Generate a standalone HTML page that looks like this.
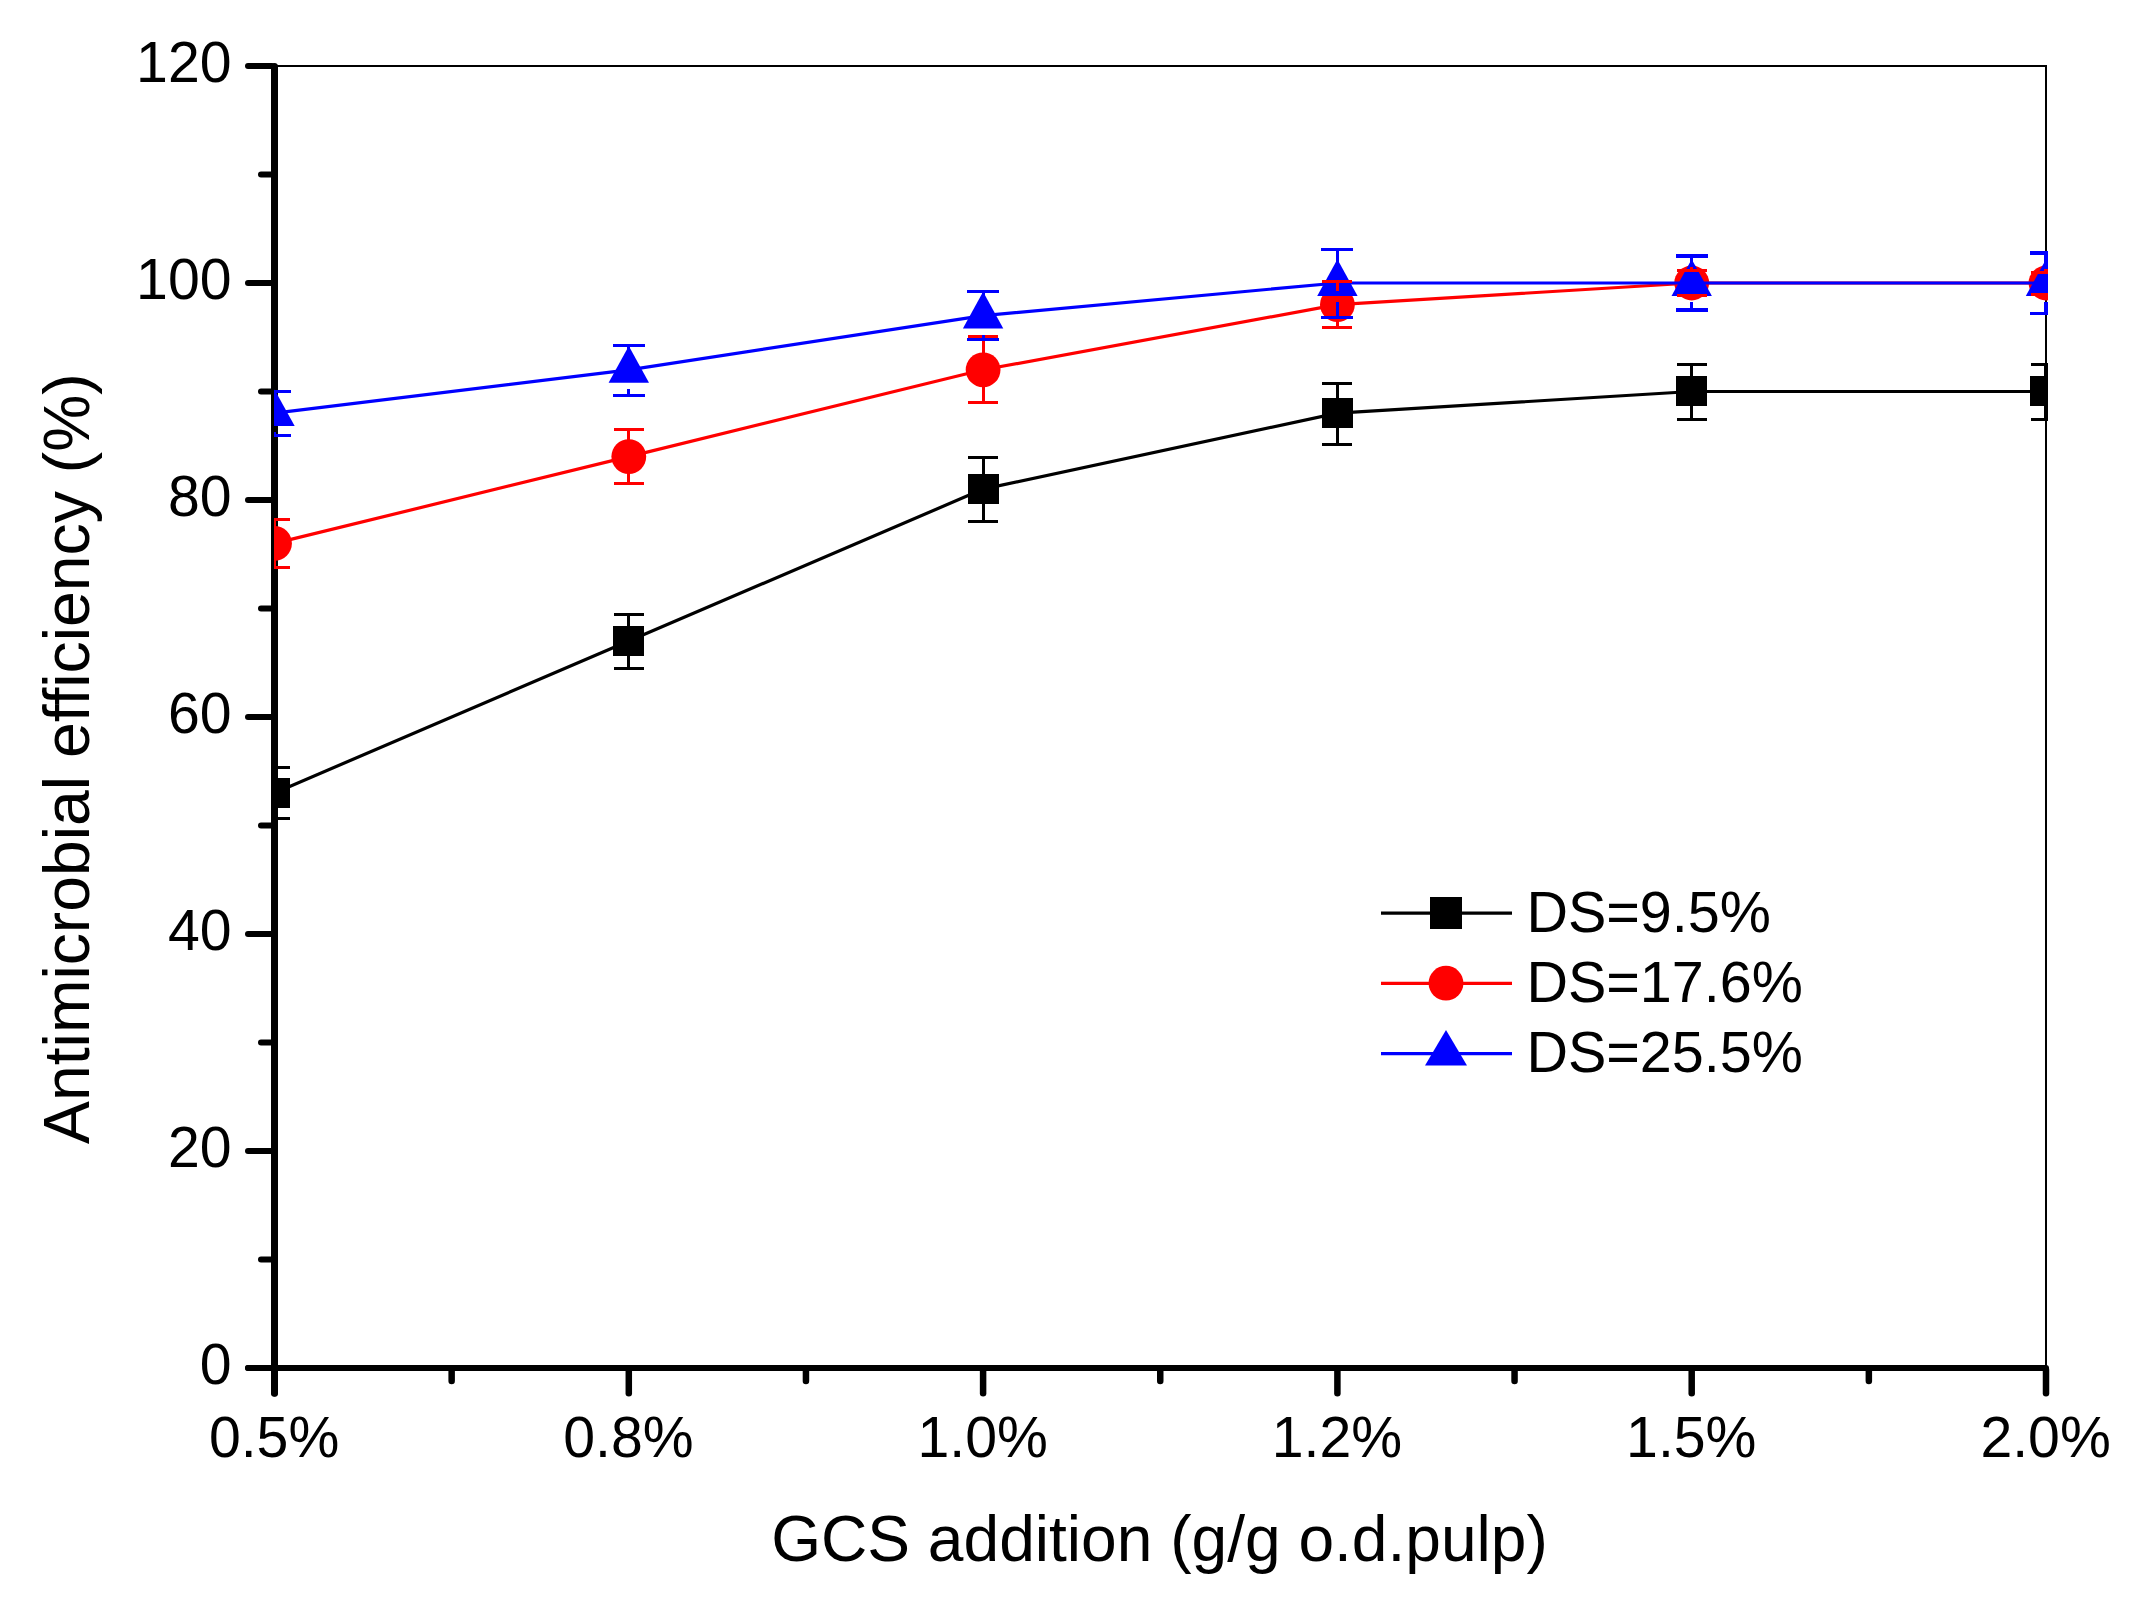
<!DOCTYPE html>
<html lang="en"><head><meta charset="utf-8"><title>Antimicrobial efficiency vs GCS addition</title>
<style>html,body{margin:0;padding:0;background:#fff;}body{width:2131px;height:1602px;overflow:hidden;}svg{display:block;}text{font-family:"Liberation Sans",Arial,Helvetica,sans-serif;fill:#000;}</style>
</head><body>
<svg width="2131" height="1602" viewBox="0 0 2131 1602">
<rect x="0" y="0" width="2131" height="1602" fill="#fff"/>
<defs><clipPath id="plot"><rect x="274" y="60" width="1774" height="1311"/></clipPath></defs>
<g shape-rendering="crispEdges">
<rect x="274" y="65" width="1773" height="2" fill="#000"/>
<rect x="2045" y="65" width="2" height="1303" fill="#000"/>
</g>
<g stroke="#000" stroke-linecap="round" fill="none">
<line x1="274.5" y1="66.6" x2="274.5" y2="1393.3" stroke-width="7"/>
<line x1="248" y1="1368" x2="2046" y2="1368" stroke-width="6"/>
<line x1="248" y1="1368.00" x2="272" y2="1368.00" stroke-width="6"/>
<line x1="261" y1="1259.50" x2="272" y2="1259.50" stroke-width="6"/>
<line x1="248" y1="1151.00" x2="272" y2="1151.00" stroke-width="6"/>
<line x1="261" y1="1042.50" x2="272" y2="1042.50" stroke-width="6"/>
<line x1="248" y1="934.00" x2="272" y2="934.00" stroke-width="6"/>
<line x1="261" y1="825.50" x2="272" y2="825.50" stroke-width="6"/>
<line x1="248" y1="717.00" x2="272" y2="717.00" stroke-width="6"/>
<line x1="261" y1="608.50" x2="272" y2="608.50" stroke-width="6"/>
<line x1="248" y1="500.00" x2="272" y2="500.00" stroke-width="6"/>
<line x1="261" y1="391.50" x2="272" y2="391.50" stroke-width="6"/>
<line x1="248" y1="283.00" x2="272" y2="283.00" stroke-width="6"/>
<line x1="261" y1="174.50" x2="272" y2="174.50" stroke-width="6"/>
<line x1="248" y1="66.00" x2="272" y2="66.00" stroke-width="6"/>
<line x1="274.50" y1="1370" x2="274.50" y2="1393.3" stroke-width="6.5"/>
<line x1="451.65" y1="1370" x2="451.65" y2="1381" stroke-width="6.5"/>
<line x1="628.80" y1="1370" x2="628.80" y2="1393.3" stroke-width="6.5"/>
<line x1="805.95" y1="1370" x2="805.95" y2="1381" stroke-width="6.5"/>
<line x1="983.10" y1="1370" x2="983.10" y2="1393.3" stroke-width="6.5"/>
<line x1="1160.25" y1="1370" x2="1160.25" y2="1381" stroke-width="6.5"/>
<line x1="1337.40" y1="1370" x2="1337.40" y2="1393.3" stroke-width="6.5"/>
<line x1="1514.55" y1="1370" x2="1514.55" y2="1381" stroke-width="6.5"/>
<line x1="1691.70" y1="1370" x2="1691.70" y2="1393.3" stroke-width="6.5"/>
<line x1="1868.85" y1="1370" x2="1868.85" y2="1381" stroke-width="6.5"/>
<line x1="2046.00" y1="1370" x2="2046.00" y2="1393.3" stroke-width="6.5"/>
</g>
<g font-size="57.2px">
<text x="231.5" y="1383.5" text-anchor="end">0</text>
<text x="231.5" y="1166.5" text-anchor="end">20</text>
<text x="231.5" y="949.5" text-anchor="end">40</text>
<text x="231.5" y="732.5" text-anchor="end">60</text>
<text x="231.5" y="515.5" text-anchor="end">80</text>
<text x="231.5" y="298.5" text-anchor="end">100</text>
<text x="231.5" y="81.5" text-anchor="end">120</text>
<text x="274.1" y="1457" text-anchor="middle">0.5%</text>
<text x="628.4" y="1457" text-anchor="middle">0.8%</text>
<text x="982.7" y="1457" text-anchor="middle">1.0%</text>
<text x="1337.0" y="1457" text-anchor="middle">1.2%</text>
<text x="1691.3" y="1457" text-anchor="middle">1.5%</text>
<text x="2045.6" y="1457" text-anchor="middle">2.0%</text>
</g>
<text x="1159.5" y="1561.4" font-size="64.1px" text-anchor="middle">GCS addition (g/g o.d.pulp)</text>
<text transform="translate(89,758.6) rotate(-90)" font-size="64.3px" text-anchor="middle">Antimicrobial efficiency (%)</text>
<g clip-path="url(#plot)">
<polyline points="274.50,792.95 628.80,641.05 983.10,489.15 1337.40,413.20 1691.70,391.50 2046.00,391.50" fill="none" stroke="#000" stroke-width="3.2"/>
<rect x="259" y="778" width="31" height="30" fill="#000" shape-rendering="crispEdges"/>
<rect x="613" y="626" width="31" height="30" fill="#000" shape-rendering="crispEdges"/>
<rect x="968" y="474" width="31" height="30" fill="#000" shape-rendering="crispEdges"/>
<rect x="1322" y="398" width="31" height="30" fill="#000" shape-rendering="crispEdges"/>
<rect x="1676" y="376" width="31" height="30" fill="#000" shape-rendering="crispEdges"/>
<rect x="2030" y="376" width="31" height="30" fill="#000" shape-rendering="crispEdges"/>
<polyline points="274.50,543.40 628.80,456.60 983.10,369.80 1337.40,304.70 1691.70,283.00 2046.00,283.00" fill="none" stroke="#f00" stroke-width="3.2"/>
<circle cx="274.50" cy="543.40" r="17.4" fill="#f00"/>
<circle cx="628.80" cy="456.60" r="17.4" fill="#f00"/>
<circle cx="983.10" cy="369.80" r="17.4" fill="#f00"/>
<circle cx="1337.40" cy="304.70" r="17.4" fill="#f00"/>
<circle cx="1691.70" cy="283.00" r="17.4" fill="#f00"/>
<circle cx="2046.00" cy="283.00" r="17.4" fill="#f00"/>
<polyline points="274.50,413.20 628.80,369.80 983.10,315.55 1337.40,283.00 1691.70,283.00 2046.00,283.00" fill="none" stroke="#00f" stroke-width="3.2"/>
<polygon points="274.50,389.40 294.70,426.10 254.30,426.10" fill="#00f"/>
<polygon points="628.80,346.00 649.00,382.70 608.60,382.70" fill="#00f"/>
<polygon points="983.10,291.75 1003.30,328.45 962.90,328.45" fill="#00f"/>
<polygon points="1337.40,259.20 1357.60,295.90 1317.20,295.90" fill="#00f"/>
<polygon points="1691.70,259.20 1711.90,295.90 1671.50,295.90" fill="#00f"/>
<polygon points="2046.00,259.20 2066.20,295.90 2025.80,295.90" fill="#00f"/>
<g stroke="#000" stroke-width="3.2" stroke-linecap="butt" fill="none" shape-rendering="crispEdges">
<line x1="259.50" y1="767.30" x2="289.50" y2="767.30"/>
<line x1="259.50" y1="818.50" x2="289.50" y2="818.50"/>
<line x1="274.50" y1="767.30" x2="274.50" y2="778.95"/>
<line x1="274.50" y1="806.95" x2="274.50" y2="818.50"/>
<line x1="613.80" y1="614.50" x2="643.80" y2="614.50"/>
<line x1="613.80" y1="668.50" x2="643.80" y2="668.50"/>
<line x1="628.80" y1="614.50" x2="628.80" y2="627.05"/>
<line x1="628.80" y1="655.05" x2="628.80" y2="668.50"/>
<line x1="968.10" y1="457.60" x2="998.10" y2="457.60"/>
<line x1="968.10" y1="521.60" x2="998.10" y2="521.60"/>
<line x1="983.10" y1="457.60" x2="983.10" y2="475.15"/>
<line x1="983.10" y1="503.15" x2="983.10" y2="521.60"/>
<line x1="1322.40" y1="383.50" x2="1352.40" y2="383.50"/>
<line x1="1322.40" y1="444.40" x2="1352.40" y2="444.40"/>
<line x1="1337.40" y1="383.50" x2="1337.40" y2="399.20"/>
<line x1="1337.40" y1="427.20" x2="1337.40" y2="444.40"/>
<line x1="1676.70" y1="364.50" x2="1706.70" y2="364.50"/>
<line x1="1676.70" y1="419.50" x2="1706.70" y2="419.50"/>
<line x1="1691.70" y1="364.50" x2="1691.70" y2="377.50"/>
<line x1="1691.70" y1="405.50" x2="1691.70" y2="419.50"/>
<line x1="2031.00" y1="364.50" x2="2061.00" y2="364.50"/>
<line x1="2031.00" y1="419.50" x2="2061.00" y2="419.50"/>
<line x1="2046.00" y1="364.50" x2="2046.00" y2="377.50"/>
<line x1="2046.00" y1="405.50" x2="2046.00" y2="419.50"/>
</g>
<g stroke="#f00" stroke-width="3.2" stroke-linecap="butt" fill="none" shape-rendering="crispEdges">
<line x1="259.50" y1="519.20" x2="289.50" y2="519.20"/>
<line x1="259.50" y1="567.30" x2="289.50" y2="567.30"/>
<line x1="274.50" y1="519.20" x2="274.50" y2="529.40"/>
<line x1="274.50" y1="557.40" x2="274.50" y2="567.30"/>
<line x1="613.80" y1="429.40" x2="643.80" y2="429.40"/>
<line x1="613.80" y1="483.50" x2="643.80" y2="483.50"/>
<line x1="628.80" y1="429.40" x2="628.80" y2="442.60"/>
<line x1="628.80" y1="470.60" x2="628.80" y2="483.50"/>
<line x1="968.10" y1="336.80" x2="998.10" y2="336.80"/>
<line x1="968.10" y1="402.70" x2="998.10" y2="402.70"/>
<line x1="983.10" y1="336.80" x2="983.10" y2="355.80"/>
<line x1="983.10" y1="383.80" x2="983.10" y2="402.70"/>
<line x1="1322.40" y1="281.50" x2="1352.40" y2="281.50"/>
<line x1="1322.40" y1="327.60" x2="1352.40" y2="327.60"/>
<line x1="1337.40" y1="281.50" x2="1337.40" y2="290.70"/>
<line x1="1337.40" y1="318.70" x2="1337.40" y2="327.60"/>
<line x1="1676.70" y1="270.50" x2="1706.70" y2="270.50"/>
<line x1="1676.70" y1="295.50" x2="1706.70" y2="295.50"/>
<line x1="1691.70" y1="266.50" x2="1691.70" y2="270.50"/>
<line x1="1691.70" y1="295.50" x2="1691.70" y2="299.50"/>
<line x1="2031.00" y1="272.50" x2="2061.00" y2="272.50"/>
<line x1="2031.00" y1="294.50" x2="2061.00" y2="294.50"/>
<line x1="2046.00" y1="268.50" x2="2046.00" y2="272.50"/>
<line x1="2046.00" y1="294.50" x2="2046.00" y2="298.50"/>
</g>
<g stroke="#00f" stroke-width="3.2" stroke-linecap="butt" fill="none" shape-rendering="crispEdges">
<line x1="258.50" y1="391.50" x2="290.50" y2="391.50"/>
<line x1="258.50" y1="435.30" x2="290.50" y2="435.30"/>
<line x1="274.50" y1="391.50" x2="274.50" y2="394.20"/>
<line x1="274.50" y1="432.20" x2="274.50" y2="435.30"/>
<line x1="612.80" y1="345.40" x2="644.80" y2="345.40"/>
<line x1="612.80" y1="395.40" x2="644.80" y2="395.40"/>
<line x1="628.80" y1="345.40" x2="628.80" y2="350.80"/>
<line x1="628.80" y1="388.80" x2="628.80" y2="395.40"/>
<line x1="967.10" y1="291.30" x2="999.10" y2="291.30"/>
<line x1="967.10" y1="339.20" x2="999.10" y2="339.20"/>
<line x1="983.10" y1="291.30" x2="983.10" y2="296.55"/>
<line x1="983.10" y1="334.55" x2="983.10" y2="339.20"/>
<line x1="1321.40" y1="249.50" x2="1353.40" y2="249.50"/>
<line x1="1321.40" y1="317.60" x2="1353.40" y2="317.60"/>
<line x1="1337.40" y1="249.50" x2="1337.40" y2="264.00"/>
<line x1="1337.40" y1="302.00" x2="1337.40" y2="317.60"/>
<line x1="1675.70" y1="256.00" x2="1707.70" y2="256.00"/>
<line x1="1675.70" y1="310.00" x2="1707.70" y2="310.00"/>
<line x1="1691.70" y1="256.00" x2="1691.70" y2="264.00"/>
<line x1="1691.70" y1="302.00" x2="1691.70" y2="310.00"/>
<line x1="2030.00" y1="253.00" x2="2062.00" y2="253.00"/>
<line x1="2030.00" y1="313.40" x2="2062.00" y2="313.40"/>
<line x1="2046.00" y1="253.00" x2="2046.00" y2="264.00"/>
<line x1="2046.00" y1="302.00" x2="2046.00" y2="313.40"/>
</g>
</g>
<line x1="1381" y1="913.2" x2="1512" y2="913.2" stroke="#000" stroke-width="3.2"/>
<rect x="1430" y="897" width="32" height="32" fill="#000"/>
<text x="1526.4" y="931.9" font-size="57.5px">DS=9.5%</text>
<line x1="1381" y1="983.3" x2="1512" y2="983.3" stroke="#f00" stroke-width="3.2"/>
<circle cx="1446" cy="983.2" r="17.4" fill="#f00"/>
<text x="1526.4" y="1002.1" font-size="57.5px">DS=17.6%</text>
<line x1="1381" y1="1053.6" x2="1512" y2="1053.6" stroke="#00f" stroke-width="3.2"/>
<polygon points="1446,1030 1467,1065.5 1425,1065.5" fill="#00f"/>
<text x="1526.4" y="1072.0" font-size="57.5px">DS=25.5%</text>
</svg></body></html>
